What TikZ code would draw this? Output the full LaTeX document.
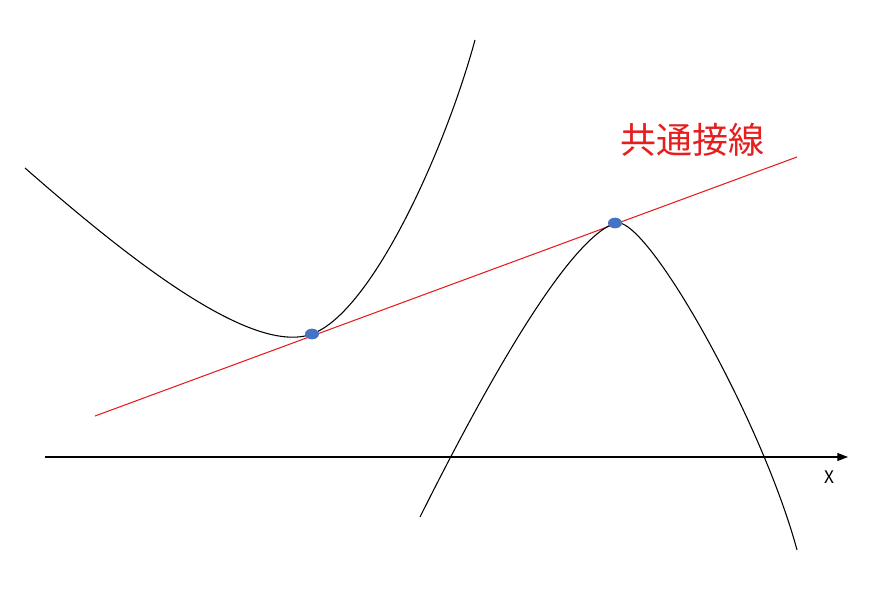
\documentclass[tikz,border=0pt]{standalone}
\usepackage{fontspec}
\usepackage{tikz}
\usetikzlibrary{arrows.meta,shapes.geometric}
\newfontfamily\jpfont{Noto Sans CJK JP}
\definecolor{dotblue}{RGB}{68,114,196}
\definecolor{tanred}{RGB}{230,30,30}

\begin{document}
\begin{tikzpicture}[x=0.75pt,y=-0.75pt,
  curve/.style={black, line width=0.8pt},
  tangentline/.style={tanred, line width=0.8pt},
  touch/.style={ellipse, fill=dotblue, minimum width=10.5pt, minimum height=8pt, inner sep=0pt}]
\useasboundingbox (0,0) rectangle (884,606);

% axis
\coordinate (xa) at (45,457);
\coordinate (xb) at (848,457);
\draw[line width=0.8pt, -{Triangle[length=8pt,width=6pt]}] (xa) -- (xb);
\node[font=\jpfont\fontsize{13pt}{15pt}\selectfont] (xlabel) at (829,477) {X};

% tangent line
\coordinate (ta) at (95,416);
\coordinate (tb) at (797,157);
\draw[tangentline] (ta) -- (tb);
\node[tanred, font=\jpfont\fontsize{27pt}{30pt}\selectfont] (title) at (692,140) {共通接線};

% left curve
\coordinate (la) at (25,168);
\coordinate (lp) at (312,334);
\coordinate (lb) at (475,40);
\draw[curve] (la) .. controls (130,260) and (252,356) .. (lp)
  .. controls (372,312) and (445,150) .. (lb);

% right curve
\coordinate (ra) at (420,517);
\coordinate (rp) at (615,223);
\coordinate (rb) at (797,550);
\draw[curve] (ra) .. controls (480,397) and (565,241) .. (rp)
  .. controls (645,212) and (762,420) .. (rb);

% touching points
\node[touch] (p1) at (lp) {};
\node[touch] (p2) at (rp) {};
\end{tikzpicture}
\end{document}
